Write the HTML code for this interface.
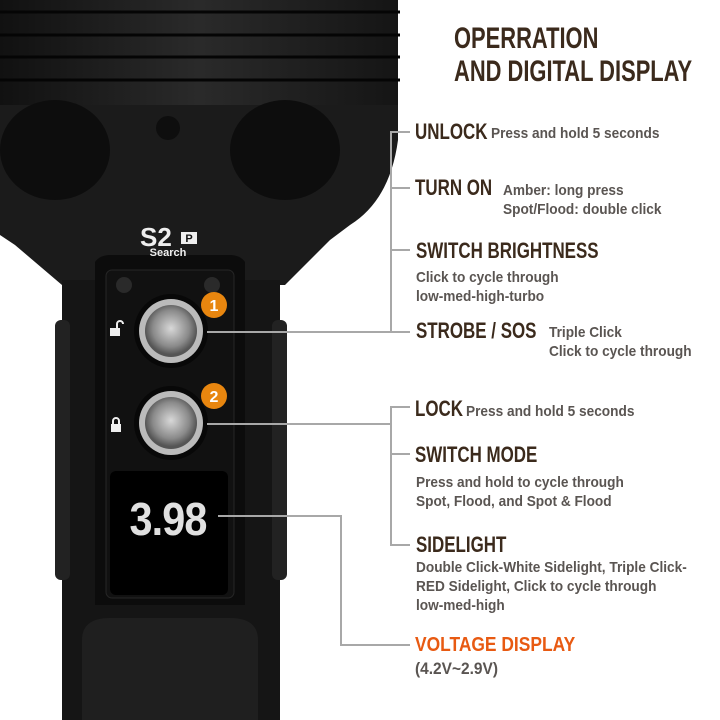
<!DOCTYPE html>
<html><head><meta charset="utf-8"><style>
body{margin:0;width:720px;height:720px;overflow:hidden;background:#fff;position:relative;font-family:"Liberation Sans",sans-serif;font-weight:bold}
.h{position:absolute;color:#3b2a1c;font-size:22px;line-height:22px;white-space:nowrap;transform:scaleX(0.77);transform-origin:0 0}
.b{position:absolute;color:#5a5552;font-size:15px;line-height:19px;white-space:nowrap;transform:scaleX(0.91);transform-origin:0 0}
.ln{position:absolute;background:#a8a8a8}
</style></head><body>
<svg width="720" height="720" style="position:absolute;left:0;top:0">
<defs>
<radialGradient id="btn" cx="50%" cy="45%" r="50%"><stop offset="0" stop-color="#d8d8d8"/><stop offset="0.7" stop-color="#8a8a8a"/><stop offset="1" stop-color="#555"/></radialGradient>
<linearGradient id="hd" x1="0" y1="0" x2="1" y2="0"><stop offset="0" stop-color="#111"/><stop offset="0.5" stop-color="#2a2a2a"/><stop offset="1" stop-color="#151515"/></linearGradient>
</defs>
<rect x="0" y="0" width="398" height="105" fill="url(#hd)"/>
<g stroke="#050505" stroke-width="3">
<line x1="0" y1="12" x2="400" y2="12"/><line x1="0" y1="35" x2="400" y2="35"/><line x1="0" y1="57" x2="400" y2="57"/><line x1="0" y1="80" x2="400" y2="80"/>
</g>
<path d="M0 105 L398 105 L398 140 Q390 200 350 225 L330 240 L285 285 L62 285 L15 245 L0 235 Z" fill="#1b1b1b"/>
<ellipse cx="55" cy="150" rx="55" ry="50" fill="#0d0d0d"/>
<ellipse cx="285" cy="150" rx="55" ry="50" fill="#0d0d0d"/>
<circle cx="168" cy="128" r="12" fill="#0e0e0e"/>
<rect x="62" y="280" width="218" height="440" fill="#151515"/>
<rect x="55" y="320" width="15" height="260" rx="6" fill="#222"/>
<rect x="272" y="320" width="15" height="260" rx="6" fill="#222"/>
<path d="M95 262 Q100 255 110 255 L230 255 Q240 255 245 262 L245 605 L95 605 Z" fill="#0c0c0c"/>
<rect x="106" y="270" width="128" height="328" rx="6" fill="#111" stroke="#262626"/>
<circle cx="124" cy="285" r="8" fill="#2a2a2a"/><circle cx="212" cy="285" r="8" fill="#2a2a2a"/>
<circle cx="171" cy="331" r="37" fill="#080808"/><circle cx="171" cy="331" r="32" fill="#bbb"/><circle cx="171" cy="331" r="26" fill="url(#btn)"/>
<circle cx="171" cy="423" r="37" fill="#080808"/><circle cx="171" cy="423" r="32" fill="#bbb"/><circle cx="171" cy="423" r="26" fill="url(#btn)"/>
<circle cx="214" cy="305" r="13" fill="#e8860f"/><text x="214" y="311" font-family="Liberation Sans" font-weight="bold" font-size="16" fill="#fff" text-anchor="middle">1</text>
<circle cx="214" cy="396" r="13" fill="#e8860f"/><text x="214" y="402" font-family="Liberation Sans" font-weight="bold" font-size="16" fill="#fff" text-anchor="middle">2</text>
<rect x="110" y="328" width="10" height="8" fill="#eee"/><path d="M117 328 v-4 a3 3 0 0 1 6 0" stroke="#eee" stroke-width="2" fill="none"/>
<rect x="111" y="424" width="10" height="8" fill="#eee"/><path d="M113 424 v-3 a3 3 0 0 1 6 0 v3" stroke="#eee" stroke-width="2" fill="none"/>
<rect x="110" y="471" width="118" height="124" rx="6" fill="#000"/>
<text x="168" y="535" font-family="Liberation Sans" font-size="46" fill="#e0e0e0" text-anchor="middle" letter-spacing="-1" transform="translate(168 0) scale(0.9 1) translate(-168 0)">3.98</text>
<path d="M82 720 L82 640 Q82 618 110 618 L230 618 Q258 618 258 640 L258 720 Z" fill="#1f1f1f"/>
<text x="140" y="246" font-family="Liberation Sans" font-weight="bold" font-size="26" fill="#eee">S2</text>
<rect x="181" y="232" width="16" height="12" fill="#eee"/><text x="189" y="242" font-family="Liberation Sans" font-weight="bold" font-size="11" fill="#111" text-anchor="middle">P</text>
<text x="168" y="256" font-family="Liberation Sans" font-weight="bold" font-size="11" fill="#eee" text-anchor="middle">Search</text>
</svg>
<div class="ln" style="left:390px;top:132px;width:2px;height:200px"></div>
<div class="ln" style="left:390px;top:131px;width:20px;height:2px"></div>
<div class="ln" style="left:390px;top:187px;width:20px;height:2px"></div>
<div class="ln" style="left:390px;top:249px;width:20px;height:2px"></div>
<div class="ln" style="left:207px;top:331px;width:203px;height:2px"></div>
<div class="ln" style="left:390px;top:406px;width:2px;height:140px"></div>
<div class="ln" style="left:390px;top:406px;width:20px;height:2px"></div>
<div class="ln" style="left:207px;top:423px;width:185px;height:2px"></div>
<div class="ln" style="left:390px;top:453px;width:20px;height:2px"></div>
<div class="ln" style="left:390px;top:544px;width:20px;height:2px"></div>
<div class="ln" style="left:218px;top:515px;width:124px;height:2px"></div>
<div class="ln" style="left:340px;top:515px;width:2px;height:131px"></div>
<div class="ln" style="left:340px;top:644px;width:70px;height:2px"></div>
<div class="h" style="left:454px;top:22px;font-size:30px;line-height:33px;transform:scaleX(0.73)">OPERRATION<br>AND DIGITAL DISPLAY</div>
<div class="h" style="left:415px;top:121px">UNLOCK</div><div class="b" style="left:491px;top:124px">Press and hold 5 seconds</div>
<div class="h" style="left:415px;top:177px">TURN ON</div><div class="b" style="left:503px;top:181px">Amber: long press<br>Spot/Flood: double click</div>
<div class="h" style="left:416px;top:240px">SWITCH BRIGHTNESS</div><div class="b" style="left:416px;top:268px">Click to cycle through<br>low-med-high-turbo</div>
<div class="h" style="left:416px;top:320px">STROBE / SOS</div><div class="b" style="left:549px;top:323px">Triple Click<br>Click to cycle through</div>
<div class="h" style="left:415px;top:398px">LOCK</div><div class="b" style="left:466px;top:402px">Press and hold 5 seconds</div>
<div class="h" style="left:415px;top:444px">SWITCH MODE</div><div class="b" style="left:416px;top:473px">Press and hold to cycle through<br>Spot, Flood, and Spot &amp; Flood</div>
<div class="h" style="left:416px;top:534px">SIDELIGHT</div><div class="b" style="left:416px;top:558px">Double Click-White Sidelight, Triple Click-<br>RED Sidelight, Click to cycle through<br>low-med-high</div>
<div class="h" style="left:415px;top:634px;color:#e85a12;font-size:20px;transform:scaleX(0.87)">VOLTAGE DISPLAY</div><div class="b" style="left:415px;top:659px;font-size:17px">(4.2V~2.9V)</div>
</body></html>
